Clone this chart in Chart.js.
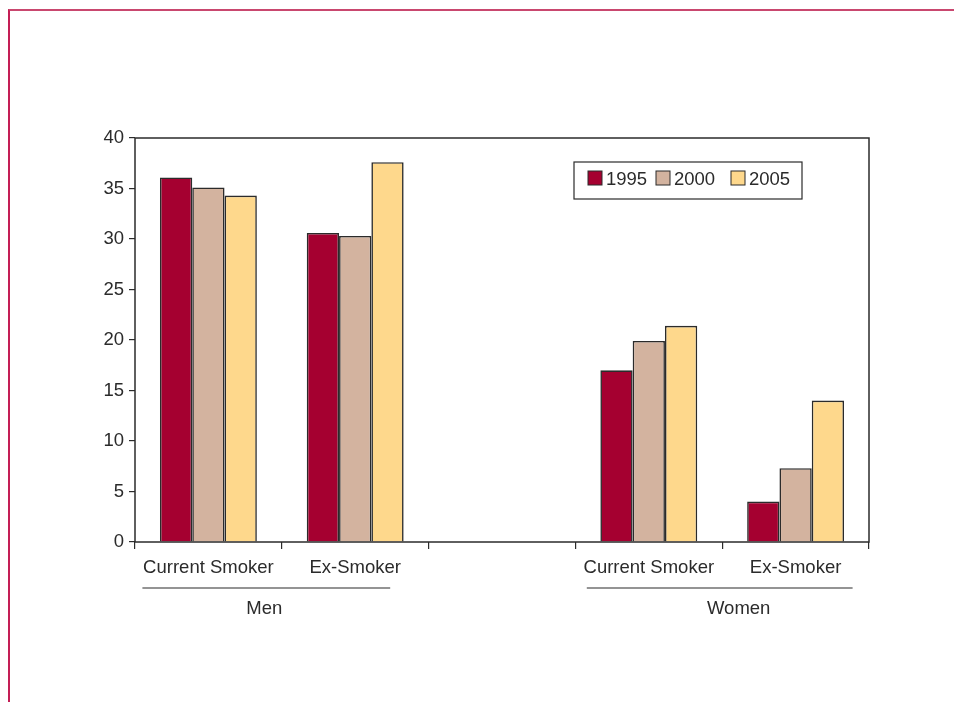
<!DOCTYPE html>
<html>
<head>
<meta charset="utf-8">
<script src="https://cdn.jsdelivr.net/npm/chart.js@4"></script>
<style>
  html, body { margin: 0; padding: 0; background: #fff; }
  #frame { position: absolute; left: 8px; top: 9px; width: 960px; height: 700px;
           border-top: 2px solid #c9476f; border-left: 2px solid #c41e55; }
  #wrap { position: absolute; left: 0; top: 0; width: 954px; height: 702px; }
</style>
</head>
<body>
<div id="frame"></div>
<div id="wrap"><canvas id="smokeChart" width="954" height="702"></canvas></div>
<script>
const categories = ["Current Smoker", "Ex-Smoker", "", "Current Smoker", "Ex-Smoker"];
const groupLabels = ["Men", "Women"];
const groupCategories = [[0, 1], [3, 4]];
const years = ["1995", "2000", "2005"];
const values1995 = [36.1, 30.6, null, 17.0, 4.0];
const values2000 = [35.1, 30.3, null, 19.9, 7.3];
const values2005 = [34.3, 37.6, null, 21.4, 14.0];
const yTicks = [0, 5, 10, 15, 20, 25, 30, 35, 40];
const colors = ["#a50030", "#d3b39f", "#fed88c"];

const FONT = "'Liberation Sans', Arial, sans-serif";
const INK = "#2b2b2b";

// frame round the plot, legend box and the Men / Women group labels
const extras = {
    id: "extras",
    afterDraw(chart) {
        const ctx = chart.ctx;
        const a = chart.chartArea;
        const x = chart.scales.x;
        ctx.save();
        ctx.strokeStyle = INK;
        ctx.lineWidth = 1.5;
        ctx.strokeRect(a.left, a.top, a.right - a.left, a.bottom - a.top);

        // group underline + label (underline runs a bit past the labels)
        const reach = [[-66, 35], [-62, 57]];
        const shift = [-2, 19];
        ctx.font = "18.5px " + FONT;
        ctx.fillStyle = INK;
        ctx.textAlign = "center";
        ctx.textBaseline = "middle";
        groupLabels.forEach((label, i) => {
            const [c0, c1] = groupCategories[i];
            const l = x.getPixelForValue(c0) + reach[i][0];
            const r = x.getPixelForValue(c1) + reach[i][1];
            ctx.lineWidth = 1.2;
            ctx.beginPath();
            ctx.moveTo(l, a.bottom + 46);
            ctx.lineTo(r, a.bottom + 46);
            ctx.stroke();
            ctx.fillText(label, (l + r) / 2 + shift[i], a.bottom + 67);
        });

        // legend
        const lx = 574, ly = 162, lw = 228, lh = 37;
        const boxX = [588, 656, 731];
        ctx.lineWidth = 1.2;
        ctx.strokeRect(lx, ly, lw, lh);
        ctx.textAlign = "left";
        chart.data.datasets.forEach((ds, i) => {
            const px = boxX[i];
            ctx.fillStyle = ds.backgroundColor;
            ctx.fillRect(px, ly + 9, 14, 14);
            ctx.strokeStyle = INK;
            ctx.lineWidth = 1;
            ctx.strokeRect(px, ly + 9, 14, 14);
            ctx.fillStyle = INK;
            ctx.fillText(ds.label, px + 18, ly + 17.5);
        });
        ctx.restore();
    }
};

const ctx = document.getElementById("smokeChart").getContext("2d");

new Chart(ctx, {
    type: "bar",
    data: {
        labels: categories,
        datasets: [
            { label: years[0], data: values1995, backgroundColor: colors[0] },
            { label: years[1], data: values2000, backgroundColor: colors[1] },
            { label: years[2], data: values2005, backgroundColor: colors[2] }
        ].map(d => Object.assign(d, { borderColor: INK, borderWidth: 1.6 }))
    },
    options: {
        responsive: false,
        animation: false,
        events: [],
        categoryPercentage: 0.66,
        barPercentage: 1.0,
        layout: { padding: { left: 85, right: 85, top: 138, bottom: 0 } },
        plugins: {
            legend: { display: false },
            tooltip: { enabled: false }
        },
        scales: {
            x: {
                afterFit(s) { s.height = 160; },
                grid: { offset: true, drawOnChartArea: false, tickLength: 7, color: INK, lineWidth: 1.2 },
                border: { display: false },
                ticks: { color: INK, padding: 8, font: { family: FONT, size: 18.5 }, maxRotation: 0, autoSkip: false }
            },
            y: {
                min: 0,
                max: 40,
                afterFit(s) { s.width = 50; },
                afterBuildTicks(s) { s.ticks = yTicks.map(v => ({ value: v })); },
                grid: { drawOnChartArea: false, tickLength: 6, color: INK, lineWidth: 1.2 },
                border: { display: false },
                ticks: { color: INK, padding: 5, font: { family: FONT, size: 18.5 } }
            }
        }
    },
    plugins: [extras]
});
</script>
</body>
</html>
